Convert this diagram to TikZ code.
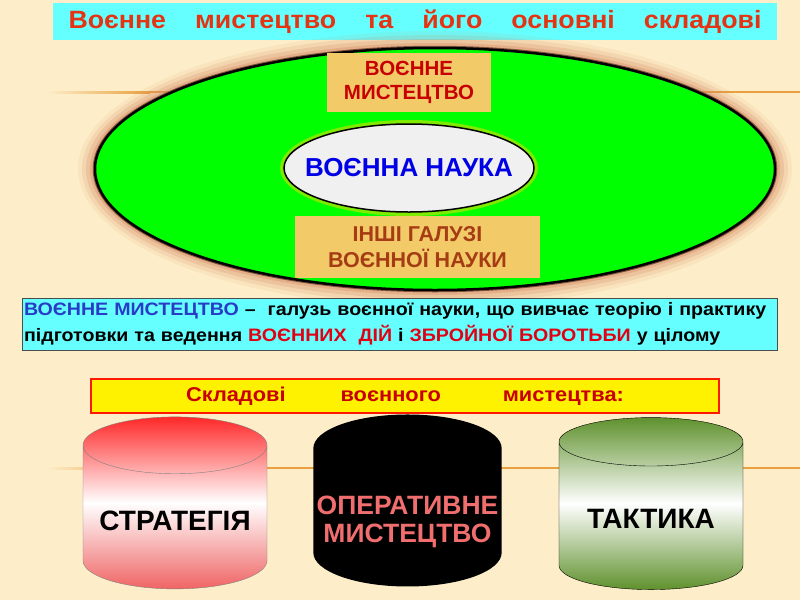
\documentclass[tikz,border=0pt]{standalone}
\usepackage{fontspec}
\setmainfont{Liberation Sans}
\newfontfamily\titlefont{Liberation Sans}[FakeStretch=1.07]
\newfontfamily\widefont{Liberation Sans}[FakeStretch=1.09]
\usetikzlibrary{shapes.geometric}
\definecolor{bgcream}{RGB}{253,238,201}
\definecolor{titlecyan}{RGB}{102,255,255}
\definecolor{titlered}{RGB}{228,52,20}
\definecolor{boxtan}{RGB}{242,202,104}
\definecolor{darkred}{RGB}{200,0,0}
\definecolor{rust}{RGB}{165,60,20}
\definecolor{sciblue}{RGB}{0,0,230}
\definecolor{defblue}{RGB}{40,60,200}
\definecolor{defred}{RGB}{225,0,20}
\definecolor{glowbrown}{RGB}{215,140,100}
\definecolor{glowgreen}{RGB}{160,230,0}
\definecolor{linegold}{RGB}{232,160,64}
\definecolor{pinktext}{RGB}{240,110,110}
\definecolor{olivegreen}{RGB}{95,145,45}
\definecolor{stratred}{RGB}{255,40,40}
\definecolor{stratpink}{RGB}{240,100,100}

\begin{document}
\begin{tikzpicture}[x=1pt,y=-1pt,
  cyl/.style={cylinder, shape border rotate=90, aspect=0.36, minimum width=184pt,
    minimum height=172pt, font=\fontsize{28}{30}\selectfont\bfseries, align=center},
  tanbox/.style={fill=boxtan, align=center, inner sep=0pt}]
  \fill[bgcream] (0,0) rectangle (800,600);
  \useasboundingbox (0,0) rectangle (800,600);
  % slide lines
  \shade[left color=bgcream, right color=linegold] (45,91) rectangle (150,93);
  \fill[linegold] (150,91) rectangle (800,93);
  \shade[left color=bgcream, right color=linegold] (45,467) rectangle (150,469);
  \fill[linegold] (150,467) rectangle (800,469);

  % title
  \node[fill=titlecyan, text=titlered, text width=693pt, inner xsep=15.5pt,
    minimum height=37pt, font=\titlefont\fontsize{25}{30}\selectfont\bfseries] (title) at (415,21.5)
    {Воєнне\hfill мистецтво\hfill та\hfill його\hfill основні\hfill складові};

  % big ellipse with glow
  \foreach \g/\o in {17/0.1, 13/0.15, 9/0.25, 5/0.35}
    \fill[glowbrown, opacity=\o] (435,169) ellipse [x radius=340+\g, y radius=121+\g];
  \draw[glowbrown!60!black, line width=4.5pt] (435,169) ellipse [x radius=340, y radius=121];
  \filldraw[fill=green, draw=black, line width=2.5pt] (435,169) ellipse [x radius=340, y radius=121];

  \node[tanbox, text=darkred, minimum width=164pt, minimum height=59pt,
    font=\fontsize{20.5}{24}\selectfont\bfseries] (mystets) at (409,82.5)
    {ВОЄННЕ\\МИСТЕЦТВО};
  \fill[glowgreen, opacity=0.8] (409,168) ellipse [x radius=129, y radius=48];
  \node[ellipse, fill=gray!12, draw=black, line width=1.5pt, minimum width=250pt,
    minimum height=88pt, text=sciblue, font=\fontsize{26}{30}\selectfont\bfseries] (nauka) at (409,168)
    {\makebox[0pt]{ВОЄННА НАУКА}};
  \node[tanbox, text=rust, minimum width=245pt, minimum height=62pt,
    font=\fontsize{21.5}{26}\selectfont\bfseries] (galuzi) at (417.5,247)
    {ІНШІ ГАЛУЗІ\\ВОЄННОЇ НАУКИ};

  % definition
  \node[fill=titlecyan, draw=gray!60!black, text width=751pt, inner xsep=2pt,
    minimum height=52pt, align=left, font=\widefont\fontsize{18}{26}\selectfont\bfseries] (def) at (399.5,324)
    {{\color{defblue}ВОЄННЕ МИСТЕЦТВО} –\ \ галузь воєнної науки, що вивчає теорію і практику\\
     підготовки та ведення {\color{defred}ВОЄННИХ\ \ ДІЙ} і {\color{defred}ЗБРОЙНОЇ БОРОТЬБИ} у цілому};

  % components
  \node[fill=yellow, draw=red!75!black, double=red!80!orange, double distance=1.2pt,
    minimum width=628pt, minimum height=34pt, text=darkred,
    font=\widefont\fontsize{20}{22}\selectfont\bfseries] (skladovi) at (405,396)
    {Складові\hspace{55pt}воєнного\hspace{62pt}мистецтва:};

  \node[cyl, top color=stratred, bottom color=stratpink, middle color=white, draw=gray] (strategy)
    at (175,521) {СТРАТЕГІЯ};
  \node[cyl, fill=black, text=pinktext, font=\fontsize{26.5}{30}\selectfont\bfseries] (operative)
    at (407.5,522) {ОПЕРАТИВНЕ\\[-2pt]МИСТЕЦТВО};
  \node[cyl, top color=olivegreen, bottom color=olivegreen, middle color=white, draw=black] (tactics)
    at (651,519) {ТАКТИКА};
\end{tikzpicture}
\end{document}
